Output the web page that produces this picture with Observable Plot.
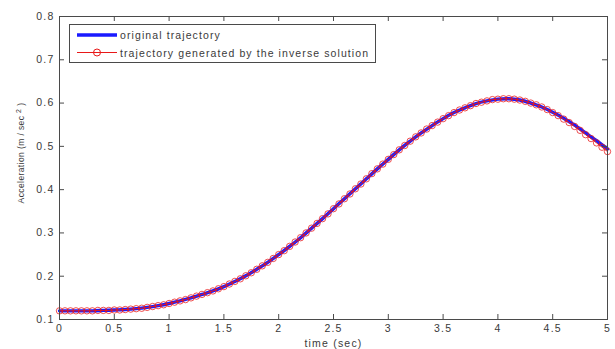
<!DOCTYPE html>
<html><head><meta charset="utf-8">
<script src="https://cdn.jsdelivr.net/npm/d3@7"></script>
<script src="https://cdn.jsdelivr.net/npm/@observablehq/plot@0.6"></script>
<style>body{margin:0;background:#fff;} svg{display:block;}</style>
</head><body><div id="chart"></div>
<script>
const timeInverse = [0.00,0.05,0.10,0.15,0.20,0.25,0.30,0.35,0.40,0.45,0.50,0.55,0.60,0.65,0.70,0.75,0.80,0.85,0.90,0.95,
1.00,1.05,1.10,1.15,1.20,1.25,1.30,1.35,1.40,1.45,1.50,1.55,1.60,1.65,1.70,1.75,1.80,1.85,1.90,1.95,
2.00,2.05,2.10,2.15,2.20,2.25,2.30,2.35,2.40,2.45,2.50,2.55,2.60,2.65,2.70,2.75,2.80,2.85,2.90,2.95,
3.00,3.05,3.10,3.15,3.20,3.25,3.30,3.35,3.40,3.45,3.50,3.55,3.60,3.65,3.70,3.75,3.80,3.85,3.90,3.95,
4.00,4.05,4.10,4.15,4.20,4.25,4.30,4.35,4.40,4.45,4.50,4.55,4.60,4.65,4.70,4.75,4.80,4.85,4.90,4.95,5.00];
const accInverse = [0.120,0.120,0.120,0.120,0.120,0.120,0.120,0.121,0.121,0.121,0.122,0.122,0.123,0.124,0.125,0.126,0.128,0.130,0.132,0.134,
0.137,0.140,0.143,0.146,0.150,0.154,0.158,0.162,0.166,0.171,0.176,0.182,0.188,0.194,0.201,0.208,0.216,0.224,0.232,0.241,
0.250,0.259,0.269,0.279,0.289,0.300,0.311,0.322,0.333,0.344,0.356,0.367,0.379,0.390,0.402,0.413,0.425,0.437,0.448,0.459,
0.470,0.481,0.492,0.502,0.512,0.522,0.531,0.540,0.548,0.556,0.564,0.571,0.578,0.584,0.589,0.594,0.599,0.602,0.605,0.608,
0.609,0.610,0.610,0.609,0.607,0.604,0.600,0.596,0.591,0.585,0.578,0.571,0.563,0.555,0.546,0.537,0.527,0.518,0.508,0.498,0.488];
const timeOriginal = [0.0,0.1,0.2,0.3,0.4,0.5,0.6,0.7,0.8,0.9,1.0,1.1,1.2,1.3,1.4,1.5,1.6,1.7,1.8,1.9,
2.0,2.1,2.2,2.3,2.4,2.5,2.6,2.7,2.8,2.9,3.0,3.1,3.2,3.3,3.4,3.5,3.6,3.7,3.8,3.9,
4.0,4.1,4.2,4.3,4.4,4.5,4.6,4.7,4.8,4.9,5.0];
const accOriginal = [0.120,0.120,0.120,0.120,0.121,0.122,0.123,0.125,0.128,0.132,0.137,0.143,0.150,0.158,0.166,0.176,0.188,0.201,0.216,0.232,
0.250,0.269,0.289,0.311,0.333,0.356,0.379,0.402,0.425,0.448,0.470,0.492,0.512,0.531,0.548,0.564,0.578,0.589,0.599,0.605,
0.609,0.610,0.607,0.600,0.591,0.579,0.565,0.549,0.531,0.513,0.494];
const xTicks = [0,0.5,1,1.5,2,2.5,3,3.5,4,4.5,5];
const yTicks = [0.1,0.2,0.3,0.4,0.5,0.6,0.7,0.8];
const xLabel = "time (sec)";
const yLabelMain = "Acceleration (m / sec ";
const yLabelSup = "2";
const yLabelEnd = " )";
const legendLabels = ["original trajectory", "trajectory generated by the inverse solution"];

const inverse = timeInverse.map((t, i) => ({t, a: accInverse[i]}));
const original = timeOriginal.map((t, i) => ({t, a: accOriginal[i]}));

const W = 615, H = 349, mL = 59, mR = 8, mT = 16, mB = 30;
const plotW = W - mL - mR, plotH = H - mT - mB, tk = 5;
const axisColor = "#4a4a4a";
const textColor = "#3a3a3a";
const redColor = "#e81818";

const chart = Plot.plot({
  width: W, height: H,
  marginLeft: mL, marginRight: mR, marginTop: mT, marginBottom: mB,
  style: {fontFamily: "'Liberation Sans', Arial, sans-serif", fontSize: "10.5px", letterSpacing: "1.2px", color: textColor, background: "#fff"},
  x: {domain: [0, 5]},
  y: {domain: [0.1, 0.8]},
  marks: [
    Plot.line(original, {x: "t", y: "a", stroke: "#1a1aff", strokeWidth: 3.4, curve: "catmull-rom"}),
    Plot.line(inverse, {x: "t", y: "a", stroke: redColor, strokeWidth: 1}),
    Plot.dot(inverse, {x: "t", y: "a", r: 3.2, stroke: redColor, strokeWidth: 0.9, strokeOpacity: 0.85, fill: "none"}),
    Plot.tickX(xTicks, {x: d => d, insetTop: plotH - tk, stroke: axisColor}),
    Plot.tickX(xTicks, {x: d => d, insetBottom: plotH - tk, stroke: axisColor}),
    Plot.tickY(yTicks, {y: d => d, insetRight: plotW - tk, stroke: axisColor}),
    Plot.tickY(yTicks, {y: d => d, insetLeft: plotW - tk, stroke: axisColor}),
    Plot.frame({stroke: axisColor}),
    Plot.axisX({ticks: xTicks, tickSize: 0, tickPadding: 5, tickFormat: d => String(d), label: null}),
    Plot.axisY({ticks: yTicks, tickSize: 0, tickPadding: 5, tickFormat: d => String(d), label: null}),
    Plot.text([xLabel], {frameAnchor: "bottom", dy: 24, lineAnchor: "middle", fill: textColor})
  ]
});
document.getElementById("chart").appendChild(chart);

const svg = d3.select(chart);
// y label with superscript
const yl = svg.append("text")
  .attr("transform", "translate(22,153) rotate(-90)")
  .attr("text-anchor", "middle")
  .attr("font-family", "'Liberation Sans', Arial, sans-serif")
  .attr("font-size", "8.5px")
  .attr("letter-spacing", "0.4px")
  .attr("fill", textColor)
  .attr("dominant-baseline", "middle");
yl.append("tspan").text(yLabelMain);
yl.append("tspan").attr("font-size", "7px").attr("dy", "-3").text(yLabelSup);
yl.append("tspan").attr("dy", "3").text(yLabelEnd);

// legend
const lg = svg.append("g");
lg.append("rect").attr("x", 69.5).attr("y", 24.5).attr("width", 306).attr("height", 38)
  .attr("fill", "#fff").attr("stroke", axisColor);
lg.append("line").attr("x1", 77).attr("x2", 117).attr("y1", 35).attr("y2", 35)
  .attr("stroke", "#1a1aff").attr("stroke-width", 3.4);
lg.append("line").attr("x1", 77).attr("x2", 117).attr("y1", 52.5).attr("y2", 52.5)
  .attr("stroke", redColor).attr("stroke-width", 1);
lg.append("circle").attr("cx", 97).attr("cy", 52.5).attr("r", 3.5)
  .attr("stroke", redColor).attr("fill", "none");
legendLabels.forEach((s, i) => {
  lg.append("text").attr("x", 120).attr("y", i === 0 ? 39 : 56.5)
    .attr("text-anchor", "start")
    .attr("font-family", "'Liberation Sans', Arial, sans-serif")
    .attr("font-size", "10.5px").attr("letter-spacing", "1.1px")
    .attr("fill", textColor).text(s);
});
</script>
</body></html>
